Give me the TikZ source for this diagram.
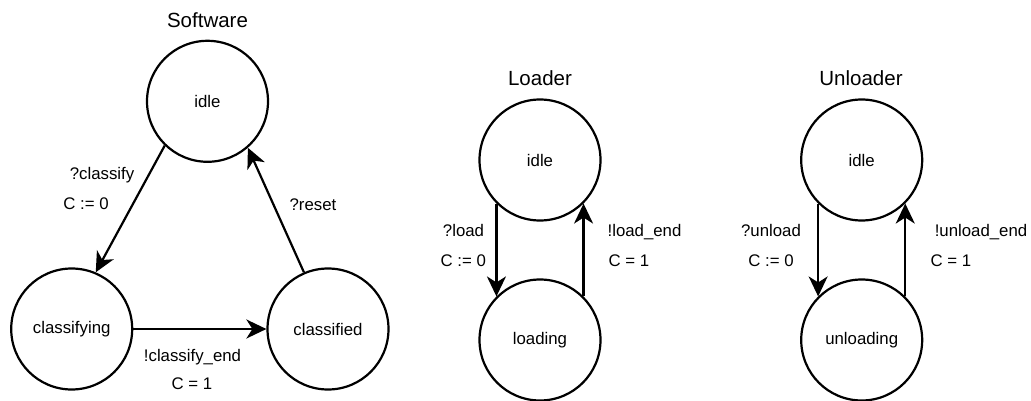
\documentclass[tikz,border=0pt]{standalone}
\usepackage{fontspec}
\setmainfont{Liberation Sans}
\usetikzlibrary{arrows.meta}
\begin{document}
\begin{tikzpicture}[x=1pt,y=-1pt,
  state/.style={circle,draw,line width=2.2pt,minimum size=121pt,inner sep=0pt,font=\fontsize{16.8}{20}\selectfont},
  lbl/.style={inner sep=0pt,anchor=base,font=\fontsize{16.8}{20}\selectfont},
  ttl/.style={inner sep=0pt,anchor=base,font=\fontsize{20.5}{24}\selectfont},
  trans/.style={line width=2.2pt,-{Stealth[length=20pt,width=19pt,inset=6pt]}}]
\useasboundingbox (0,0) rectangle (1031,401);
% Software
\node[ttl] (t1) at (207.5,27.3) {Software};
\node[state] (sidle) at (207.5,101.3) {idle};
\node[state] (scl) at (71.7,329) {classifying};
\node[state] (scd) at (328,329) {classified};
\draw[trans] (sidle.226.5) -- (scl.67.4);
\draw[trans] (scl.east) -- (scd.west);
\draw[trans] (scd.113.6) -- (sidle.311.8);
\node[lbl] (l1) at (102,179) {?classify};
\node[lbl] (l2) at (86,209.5) {C := 0};
\node[lbl] (l3) at (313,210) {?reset};
\node[lbl] (l4) at (192.5,361) {!classify\_end};
\node[lbl] (l5) at (192,389) {C = 1};
% Loader
\node[ttl] (t2) at (540,85.3) {Loader};
\node[state] (lidle) at (540,160) {idle};
\node[state] (lload) at (540,340) {loading};
\draw[trans] (lidle.225) -- (lload.135);
\draw[trans] (lload.45) -- (lidle.315);
\node[lbl] (l6) at (463.5,236) {?load};
\node[lbl] (l7) at (463.3,266) {C := 0};
\node[lbl] (l8) at (644.5,236) {!load\_end};
\node[lbl] (l9) at (629,266) {C = 1};
% Unloader
\node[ttl] (t3) at (861,85.3) {Unloader};
\node[state] (uidle) at (861.7,160) {idle};
\node[state] (uload) at (861.7,340) {unloading};
\draw[trans] (uidle.225) -- (uload.135);
\draw[trans] (uload.45) -- (uidle.315);
\node[lbl] (l10) at (771,236) {?unload};
\node[lbl] (l11) at (771,266) {C := 0};
\node[lbl] (l12) at (981,236) {!unload\_end};
\node[lbl] (l13) at (951,266) {C = 1};
\end{tikzpicture}
\end{document}
